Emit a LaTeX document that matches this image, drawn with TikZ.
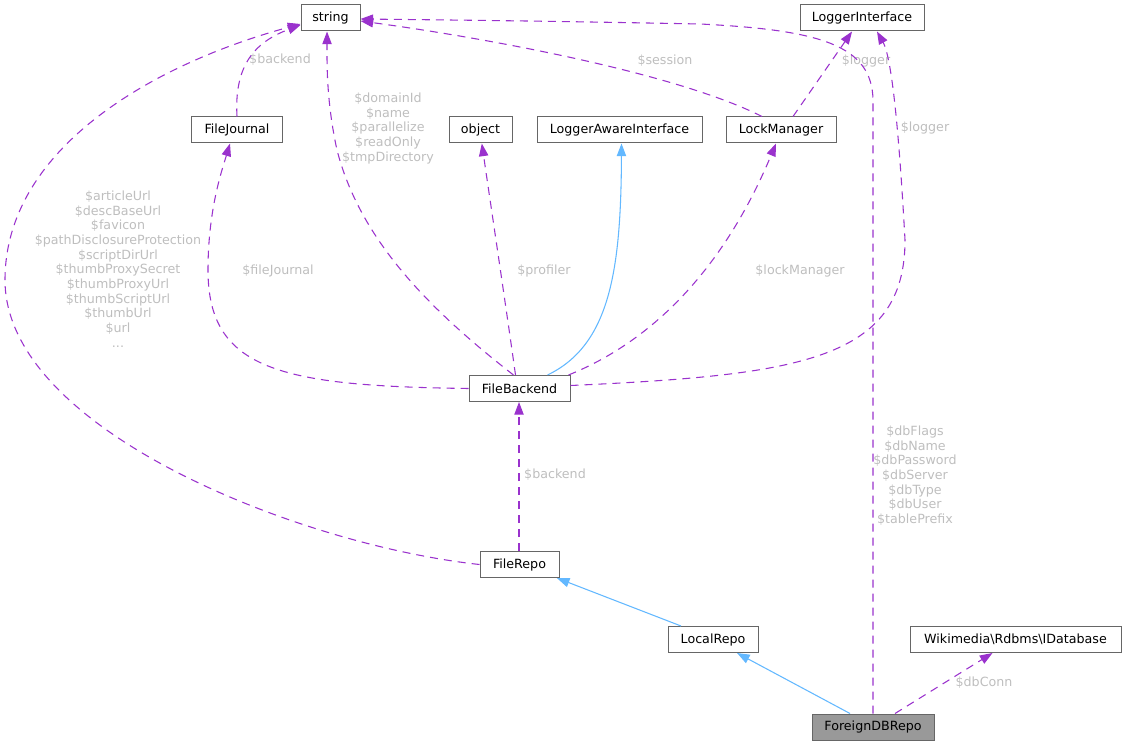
\documentclass[tikz,border=0pt]{standalone}
\usepackage{fontspec}
\setmainfont{DejaVu Sans}
\usetikzlibrary{arrows.meta}
\definecolor{edgepurple}{HTML}{9A32CD}
\definecolor{edgeblue}{HTML}{63B8FF}
\definecolor{lblgray}{HTML}{BEBEBE}
\definecolor{boxgray}{HTML}{666666}
\definecolor{fillgray}{HTML}{999999}
\begin{document}
\begin{tikzpicture}[x=0.75pt,y=-0.75pt,
  cls/.style={draw=boxgray, line width=0.75pt, fill=white, minimum height=19.5pt, inner sep=0pt, font=\fontsize{9.5}{11}\selectfont, text=black},
  lbl/.style={text=lblgray, align=center, font=\fontsize{9.5}{11}\selectfont, inner sep=0pt},
  member/.style={draw=edgepurple, line width=0.8pt, dash pattern=on 6pt off 4.5pt, -{Triangle[length=9.5pt,width=7pt]}},
  inherit/.style={draw=edgeblue, line width=0.8pt, -{Triangle[length=9.5pt,width=7pt]}}]
\useasboundingbox (0,0) rectangle (1126,745);

% classes
\node[cls, minimum width=44.25pt] (string) at (330.5,18) {string};
\node[cls, minimum width=93pt] (loggerif) at (862,18) {LoggerInterface};
\node[cls, minimum width=68.25pt] (filejournal) at (237,130) {FileJournal};
\node[cls, minimum width=47.25pt] (object) at (480.5,130) {object};
\node[cls, minimum width=123.75pt] (lai) at (619.5,130) {LoggerAwareInterface};
\node[cls, minimum width=82.5pt] (lockmanager) at (781,130) {LockManager};
\node[cls, minimum width=75.75pt] (filebackend) at (519.5,388.5) {FileBackend};
\node[cls, minimum width=59.25pt] (filerepo) at (519.5,564.5) {FileRepo};
\node[cls, minimum width=67.5pt] (localrepo) at (713,639.5) {LocalRepo};
\node[cls, minimum width=158.25pt] (idb) at (1015.5,639.5) {Wikimedia\textbackslash Rdbms\textbackslash IDatabase};
\node[cls, minimum width=91.5pt, fill=fillgray] (foreign) at (873,727) {ForeignDBRepo};

% labels
\node[lbl] (lbackend1) at (280,60) {\$backend};
\node[lbl] (ldomain) at (388,128.5) {\$domainId\\\$name\\\$parallelize\\\$readOnly\\\$tmpDirectory};
\node[lbl] (lsession) at (665,61) {\$session};
\node[lbl] (llogger1) at (866,61) {\$logger};
\node[lbl] (llogger2) at (925,128) {\$logger};
\node[lbl] (larticle) at (118,269) {\$articleUrl\\\$descBaseUrl\\\$favicon\\\$pathDisclosureProtection\\\$scriptDirUrl\\\$thumbProxySecret\\\$thumbProxyUrl\\\$thumbScriptUrl\\\$thumbUrl\\\$url\\...};
\node[lbl] (lfilejournal) at (278,271) {\$fileJournal};
\node[lbl] (lprofiler) at (544,271) {\$profiler};
\node[lbl] (llockmanager) at (800,271) {\$lockManager};
\node[lbl] (lbackend2) at (555,475) {\$backend};
\node[lbl] (ldbflags) at (915,475.5) {\$dbFlags\\\$dbName\\\$dbPassword\\\$dbServer\\\$dbType\\\$dbUser\\\$tablePrefix};
\node[lbl] (ldbconn) at (984,683) {\$dbConn};

% edges
\draw[member] (filerepo.west) .. controls (300,545) and (5,430) .. (5,280)
  .. controls (5,150) and (150,65) .. ([yshift=-4.5pt]string.west);
\draw[member] (filejournal.north) .. controls (234,65) and (255,42) .. ([yshift=-5.25pt]string.west);
\draw[member] ([xshift=-4.5pt]filebackend.north) .. controls (430,310) and (360,240) .. (337,150)
  .. controls (326,100) and (327,60) .. ([xshift=-2.6pt]string.south);
\draw[member] ([xshift=-3pt]filebackend.north) .. controls (505,300) and (490,200) .. ([xshift=1pt]object.south);
\draw[inherit] ([xshift=21pt]filebackend.north) .. controls (610,345) and (621,270) .. ([xshift=1.5pt]lai.south);
\draw[member] ([xshift=-1.5pt]filebackend.north east) .. controls (680,330) and (740,230) .. ([xshift=-3.75pt]lockmanager.south);
\draw[member] (filebackend.west) .. controls (280,386) and (208,370) .. (208,270)
  .. controls (208,210) and (222,170) .. ([xshift=-5.25pt]filejournal.south);
\draw[member] ([yshift=2.25pt]filebackend.east) .. controls (800,375) and (905,360) .. (905,240)
  .. controls (900,150) and (893,60) .. ([xshift=11.25pt]loggerif.south);
\draw[member] ([xshift=-14.25pt]lockmanager.north) .. controls (680,75) and (500,40) .. ([yshift=-2.25pt]string.east);
\draw[member] ([xshift=9pt]lockmanager.north) -- ([xshift=-7.5pt]loggerif.south);
\draw[member] (foreign.north) -- (873,100) .. controls (872,45) and (820,30) .. (700,24)
  .. controls (550,21) and (450,20) .. ([yshift=-0.75pt]string.east);
\draw[member] ([xshift=-0.375pt]filerepo.north) -- ([xshift=-0.375pt]filebackend.south);
\draw[inherit] ([xshift=-24pt]localrepo.north) -- ([xshift=28pt]filerepo.south);
\draw[inherit] ([xshift=-17.25pt]foreign.north) -- ([xshift=18pt]localrepo.south);
\draw[member] ([xshift=16.5pt]foreign.north) -- ([xshift=-17.25pt]idb.south);
\end{tikzpicture}
\end{document}
